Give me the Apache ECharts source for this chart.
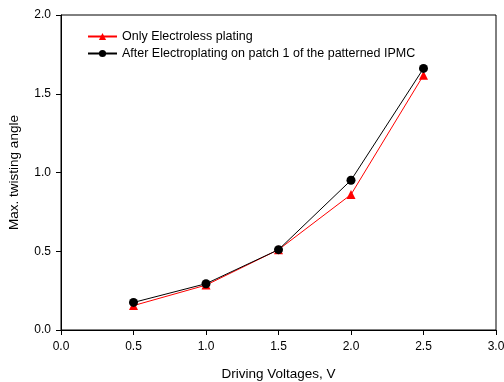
<!DOCTYPE html>
<html>
<head>
<meta charset="utf-8">
<script src="https://cdn.jsdelivr.net/npm/echarts@6/dist/echarts.min.js"></script>
<style>
  html, body { margin: 0; padding: 0; background: #fff; }
  #main { width: 504px; height: 382px; }
</style>
</head>
<body>
<div id="main"></div>
<script>
var mychart = echarts.init(document.getElementById('main'));

// Driving voltages (V)
var voltages = [0.5, 1.0, 1.5, 2.0, 2.5];
// Only electroless plating
var electroless = [0.155, 0.285, 0.51, 0.86, 1.618];
// After electroplating on patch 1
var electroplated = [0.175, 0.294, 0.51, 0.951, 1.661];

var names = ['Only Electroless plating', 'After Electroplating on patch 1 of the patterned IPMC'];

function pairs(xs, ys) {
    let out = [];
    for (let i = 0; i < xs.length; i++) {
        out.push([xs[i], ys[i]]);
    }
    return out;
}

var font = 'Liberation Sans, Arial, sans-serif';

var option = {
    animation: false,
    backgroundColor: '#fff',
    grid: {
        left: 61,
        right: 8,
        top: 15,
        bottom: 52,
        outerBoundsMode: 'none',
        containLabel: false,
        show: true,
        borderColor: '#000',
        borderWidth: 1
    },
    legend: {
        orient: 'vertical',
        left: 82,
        top: 25,
        itemGap: 4,
        itemWidth: 29,
        itemHeight: 9,
        textStyle: { fontFamily: font, fontSize: 12.5, color: '#000', padding: [0, 0, 0, 0] },
        data: names
    },
    xAxis: {
        type: 'value',
        min: 0,
        max: 3,
        interval: 0.5,
        name: 'Driving Voltages, V',
        nameLocation: 'middle',
        nameGap: 37,
        nameTextStyle: { fontFamily: font, fontSize: 13.5, color: '#000' },
        axisLine: { show: true, onZero: false, lineStyle: { color: '#000', width: 1 } },
        axisTick: { show: true, inside: false, length: 5, lineStyle: { color: '#000' } },
        axisLabel: { fontFamily: font, fontSize: 12, color: '#000', margin: 11,
            formatter: function (v) { return v.toFixed(1); } },
        splitLine: { show: false }
    },
    yAxis: {
        type: 'value',
        min: 0,
        max: 2,
        interval: 0.5,
        name: 'Max. twisting angle',
        nameLocation: 'middle',
        nameGap: 40,
        nameTextStyle: { fontFamily: font, fontSize: 13.5, color: '#000' },
        axisLine: { show: true, onZero: false, lineStyle: { color: '#000', width: 1 } },
        axisTick: { show: true, inside: false, length: 5, lineStyle: { color: '#000' } },
        axisLabel: { fontFamily: font, fontSize: 12, color: '#000', margin: 10,
            formatter: function (v) { return v.toFixed(1); } },
        splitLine: { show: false }
    },
    series: [
        {
            name: names[0],
            type: 'line',
            data: pairs(voltages, electroless),
            symbol: 'triangle',
            symbolSize: 9,
            color: '#ff0000',
            lineStyle: { color: '#ff0000', width: 1 },
            itemStyle: { color: '#ff0000' },
            z: 2
        },
        {
            name: names[1],
            type: 'line',
            data: pairs(voltages, electroplated),
            symbol: 'circle',
            symbolSize: 9,
            color: '#000',
            lineStyle: { color: '#000', width: 1 },
            itemStyle: { color: '#000' },
            z: 3
        }
    ]
};

mychart.setOption(option);
</script>
</body>
</html>
